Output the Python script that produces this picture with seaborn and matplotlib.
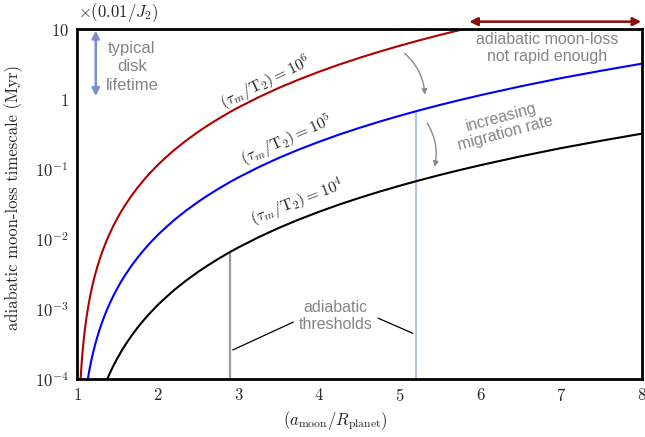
import matplotlib
matplotlib.use("Agg")
import matplotlib.pyplot as plt
import seaborn as sns
import pandas as pd

# ---- data ----
a_red = [1.02, 1.03, 1.04, 1.05, 1.06, 1.07, 1.08, 1.09, 1.10, 1.115, 1.13, 1.145, 1.16,
         1.18, 1.20, 1.225, 1.25, 1.275, 1.30, 1.325, 1.35, 1.375, 1.40, 1.45, 1.50, 1.55,
         1.60, 1.675, 1.75, 1.825, 1.9, 2.0, 2.1, 2.2, 2.35, 2.5, 2.6, 2.75, 2.9, 3.0, 3.25,
         3.5, 3.75, 4.0, 4.25, 4.5, 4.75, 5.0, 5.25, 5.5, 5.75, 6.0]
t_red = [1.95e-5, 4.44e-5, 7.99e-5, 1.26e-4, 1.84e-4, 2.53e-4, 3.35e-4, 4.29e-4, 5.36e-4,
         7.21e-4, 9.36e-4, 1.18e-3, 1.47e-3, 1.90e-3, 2.39e-3, 3.11e-3, 3.93e-3, 4.88e-3,
         5.95e-3, 7.15e-3, 8.49e-3, 9.98e-3, 0.0116, 0.0154, 0.0198, 0.0250, 0.0309, 0.0415,
         0.0541, 0.0690, 0.0864, 0.114, 0.146, 0.185, 0.254, 0.339, 0.405, 0.520, 0.656,
         0.758, 1.06, 1.44, 1.90, 2.45, 3.11, 3.87, 4.76, 5.77, 6.93, 8.24, 9.71, 11.4]

a_blue = [1.10, 1.115, 1.13, 1.145, 1.16, 1.18, 1.20, 1.225, 1.25, 1.275, 1.30, 1.325, 1.35,
          1.375, 1.40, 1.45, 1.50, 1.55, 1.60, 1.675, 1.75, 1.825, 1.9, 2.0, 2.1, 2.2, 2.35,
          2.5, 2.6, 2.75, 2.9, 3.0, 3.25, 3.5, 3.75, 4.0, 4.25, 4.5, 4.75, 5.0, 5.25, 5.5,
          5.75, 6.0, 6.5, 7.0, 7.5, 8.0]
t_blue = [5.36e-5, 7.21e-5, 9.36e-5, 1.18e-4, 1.47e-4, 1.90e-4, 2.39e-4, 3.11e-4, 3.93e-4,
          4.88e-4, 5.95e-4, 7.15e-4, 8.49e-4, 9.98e-4, 1.16e-3, 1.54e-3, 1.98e-3, 2.50e-3,
          3.09e-3, 4.15e-3, 5.41e-3, 6.90e-3, 8.64e-3, 0.0114, 0.0146, 0.0185, 0.0254,
          0.0339, 0.0405, 0.0520, 0.0656, 0.0758, 0.106, 0.144, 0.190, 0.245, 0.311, 0.387,
          0.476, 0.577, 0.693, 0.824, 0.971, 1.135, 1.52, 1.99, 2.54, 3.20]

a_black = [1.30, 1.325, 1.35, 1.375, 1.40, 1.45, 1.50, 1.55, 1.60, 1.675, 1.75, 1.825, 1.9,
           2.0, 2.1, 2.2, 2.35, 2.5, 2.6, 2.75, 2.9, 3.0, 3.25, 3.5, 3.75, 4.0, 4.25, 4.5,
           4.75, 5.0, 5.25, 5.5, 5.75, 6.0, 6.5, 7.0, 7.5, 8.0]
t_black = [5.95e-5, 7.15e-5, 8.49e-5, 9.98e-5, 1.16e-4, 1.54e-4, 1.98e-4, 2.50e-4, 3.09e-4,
           4.15e-4, 5.41e-4, 6.90e-4, 8.64e-4, 1.14e-3, 1.46e-3, 1.85e-3, 2.54e-3, 3.39e-3,
           4.05e-3, 5.20e-3, 6.56e-3, 7.58e-3, 0.0106, 0.0144, 0.0190, 0.0245, 0.0311, 0.0387,
           0.0476, 0.0577, 0.0693, 0.0824, 0.0971, 0.1135, 0.152, 0.199, 0.254, 0.320]

threshold_x = [2.9, 5.2]
threshold_top = [6.56e-3, 0.66]

x_ticks = [1, 2, 3, 4, 5, 6, 7, 8]
x_ticklabels = ['$1$', '$2$', '$3$', '$4$', '$5$', '$6$', '$7$', '$8$']
y_ticks = [1e-4, 1e-3, 1e-2, 1e-1, 1, 10]
y_ticklabels = ['$10^{-4}$', '$10^{-3}$', '$10^{-2}$', '$10^{-1}$', '$1$', '$10$']

curve_labels = [r'$(\tau_m/\mathrm{T}_2) = 10^6$', r'$(\tau_m/\mathrm{T}_2) = 10^5$',
                r'$(\tau_m/\mathrm{T}_2) = 10^4$']

# ---- style ----
sns.set_theme(style="white")
plt.rcParams['font.family'] = ['Liberation Sans', 'DejaVu Sans']
plt.rcParams['mathtext.fontset'] = 'cm'
plt.rcParams['axes.unicode_minus'] = False

RED = '#b00000'
BLUE = '#0000ff'
GRAY_TXT = '#858585'

fig = plt.figure(figsize=(6.45, 4.37), dpi=100)
ax = fig.add_axes([77 / 645, 1 - 379 / 437, 565 / 645, 350 / 437])

df_r = pd.DataFrame({'a': a_red, 't': t_red})
df_b = pd.DataFrame({'a': a_blue, 't': t_blue})
df_k = pd.DataFrame({'a': a_black, 't': t_black})
sns.lineplot(data=df_r, x='a', y='t', ax=ax, color=RED, lw=1.5, estimator=None, sort=False)
sns.lineplot(data=df_b, x='a', y='t', ax=ax, color=BLUE, lw=1.5, estimator=None, sort=False)
sns.lineplot(data=df_k, x='a', y='t', ax=ax, color='black', lw=1.5, estimator=None, sort=False)

ax.set_yscale('log')
ax.set_xlim(1, 8)
ax.set_ylim(1e-4, 10)
ax.minorticks_off()

# threshold lines
ax.vlines(threshold_x[0], 1e-4, threshold_top[0], color='#9a9a9a', lw=1.6, zorder=1)
ax.vlines(threshold_x[1], 1e-4, threshold_top[1], color='#bcc5e6', lw=1.6, zorder=1)

ax.set_xticks(x_ticks)
ax.set_xticklabels(x_ticklabels)
ax.set_yticks(y_ticks)
ax.set_yticklabels(y_ticklabels)
ax.tick_params(axis='both', direction='in', length=5, width=1, color='#888888',
               labelsize=12, top=False, right=False)
ax.tick_params(axis='x', pad=6)
ax.tick_params(axis='y', pad=6)
for s in ax.spines.values():
    s.set_visible(True)
    s.set_color('black')
    s.set_linewidth(2)

ax.set_xlabel('')
ax.set_ylabel('')
ax.text(0.457, -0.12, r'$(a_{\rm moon}/R_{\rm planet})$', transform=ax.transAxes,
        ha='center', va='center', fontsize=12)
ax.text(-0.113, 0.52, 'adiabatic moon-loss timescale (Myr)', transform=ax.transAxes,
        ha='center', va='center', rotation=90, fontsize=12, family='cmr10')
fig.text(78 / 645, 1 - 12.7 / 437, r'$\times(0.01/J_2)$', ha='left', va='center', fontsize=12)

# curve labels
ax.text(3.33, 1.75, curve_labels[0], rotation=26, ha='center', va='center', fontsize=11.5)
ax.text(3.60, 0.26, curve_labels[1], rotation=24, ha='center', va='center', fontsize=11.5)
ax.text(3.73, 0.0338, curve_labels[2], rotation=21, ha='center', va='center', fontsize=11.5)

# disk lifetime arrow and text
ax.annotate('', xy=(1.232, 9.5), xytext=(1.232, 1.1),
            arrowprops=dict(arrowstyle='<|-|>', color='#7b8fcf', lw=1.8, mutation_scale=11,
                            shrinkA=0, shrinkB=0))
ax.text(1.68, 2.9, 'typical\ndisk\nlifetime', ha='center', va='center', fontsize=12,
        color=GRAY_TXT, linespacing=1.3)

# moon-loss not rapid enough
ax.annotate('', xy=(5.86, 1.021), xytext=(7.99, 1.021),
            xycoords=('data', 'axes fraction'), textcoords=('data', 'axes fraction'),
            arrowprops=dict(arrowstyle='<|-|>', color='#8b0a0a', lw=1.8, mutation_scale=12,
                            shrinkA=0, shrinkB=0), annotation_clip=False)
ax.text(6.82, 5.3, 'adiabatic moon-loss\nnot rapid enough', ha='center', va='center',
        fontsize=11.5, color=GRAY_TXT, linespacing=1.15)

# increasing migration rate
ax.annotate('', xy=(5.31, 1.15), xytext=(5.06, 4.5),
            arrowprops=dict(arrowstyle='-|>', color='#8a8a8a', lw=1, mutation_scale=8,
                            connectionstyle='arc3,rad=-0.2', shrinkA=0, shrinkB=0))
ax.annotate('', xy=(5.43, 0.107), xytext=(5.34, 0.45),
            arrowprops=dict(arrowstyle='-|>', color='#8a8a8a', lw=1, mutation_scale=8,
                            connectionstyle='arc3,rad=-0.2', shrinkA=0, shrinkB=0))
ax.text(6.28, 0.42, 'increasing\nmigration rate', ha='center', va='center', rotation=15,
        fontsize=11.5, color=GRAY_TXT, linespacing=1.15)

# adiabatic thresholds
ax.text(4.20, 7.9e-4, 'adiabatic\nthresholds', ha='center', va='center', fontsize=11.5,
        color=GRAY_TXT, linespacing=1.15)
ax.plot([2.93, 3.68], [2.6e-4, 6.5e-4], color='black', lw=0.9)
ax.plot([4.73, 5.16], [7.4e-4, 4.5e-4], color='black', lw=0.9)

fig.savefig('out.png', dpi=100)
